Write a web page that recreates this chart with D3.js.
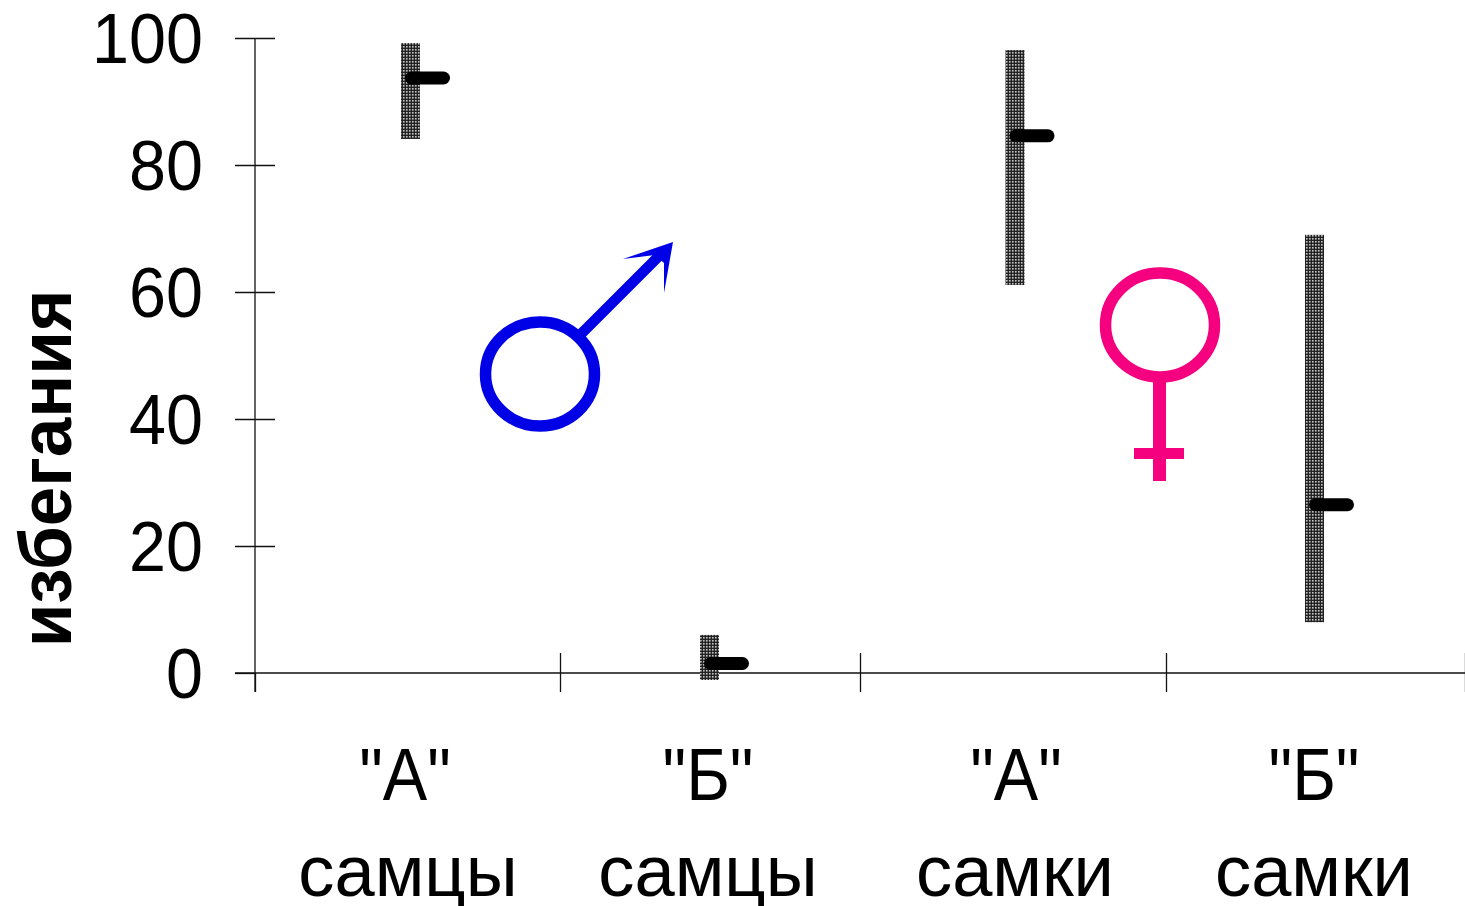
<!DOCTYPE html>
<html><head><meta charset="utf-8">
<script src="https://cdn.jsdelivr.net/npm/d3@7/dist/d3.min.js"></script>
<style>html,body{margin:0;padding:0;background:#fff;overflow:hidden}svg{display:block}
text{font-family:"Liberation Sans",Arial,sans-serif;fill:#000}</style></head>
<body><svg id="c" width="1465" height="906"></svg>
<script>
const groups=['"А"','"Б"','"А"','"Б"'];
const sexes=["самцы","самцы","самки","самки"];
const highs=[99.2,6,98.1,69];
const lows=[84.1,-1.1,61.1,8];
const closes=[93.7,1.5,84.6,26.5];
const yTicks=[0,20,40,60,80,100];
const yTitle="избегания";
const svg=d3.select("#c");
const y=d3.scaleLinear().domain([0,100]).range([673,38]);
const edge=d3.scaleLinear().domain([0,1,2,3,4]).range([255,560,860,1166,1465]);
const cx=d3.scaleOrdinal().domain([0,1,2,3]).range([410.5,709.5,1015,1314.5]);
const defs=svg.append("defs");
const pat=defs.append("pattern").attr("id","dots").attr("patternUnits","userSpaceOnUse").attr("width",3).attr("height",3);
pat.append("rect").attr("width",3).attr("height",3).attr("fill","#222");
pat.append("rect").attr("x",1).attr("y",1).attr("width",1.6).attr("height",1.6).attr("fill","#c4c4c4");
// axes
const yAxis=d3.axisLeft(y).tickValues(yTicks).tickSize(20).tickPadding(32).tickSizeOuter(0);
const gy=svg.append("g").attr("transform","translate(255,0)").call(yAxis);
const tickScale=0.95;
gy.selectAll(".tick text").attr("font-size",70).attr("dy",null).attr("y",24)
  .attr("x",-52/tickScale).attr("transform",`scale(${tickScale},1)`);
gy.selectAll("line").attr("stroke","#111").attr("stroke-width",1.3);
gy.select(".domain").attr("stroke","#111").attr("stroke-width",1.3).attr("d",`M0,${y(100)}V692`);
gy.selectAll(".tick line").attr("x2",-20).attr("x1",20);
gy.selectAll(".tick").filter(d=>d===0).select("line").attr("x1",0);
const xAxis=d3.axisBottom(edge).tickValues([0,1,2,3,4]).tickSize(19).tickFormat("").tickSizeOuter(0);
const gx=svg.append("g").attr("transform","translate(0,673)").call(xAxis);
gx.select(".domain").attr("stroke","#111").attr("stroke-width",1.3).attr("d","M235,0H1465");
gx.selectAll(".tick line").attr("y1",-20).attr("y2",19).attr("stroke","#111").attr("stroke-width",1.3);
gx.selectAll(".tick").filter(d=>d===0).select("line").attr("y1",0);
// bars
const idx=d3.range(groups.length);
svg.append("g").selectAll("rect").data(idx).join("rect")
 .attr("x",i=>cx(i)-9.5).attr("width",19)
 .attr("y",i=>y(highs[i])).attr("height",i=>y(lows[i])-y(highs[i]))
 .attr("fill","url(#dots)");
svg.append("g").selectAll("line").data(idx).join("line")
 .attr("x1",i=>cx(i)+1).attr("x2",i=>cx(i)+33)
 .attr("y1",i=>y(closes[i])).attr("y2",i=>y(closes[i]))
 .attr("stroke","#000").attr("stroke-width",13).attr("stroke-linecap","round");
// labels
const gl=svg.append("g").attr("text-anchor","middle");
const lab1=[405,708,1016,1314],lab2=[408,708,1015,1314];
gl.selectAll(".g").data(idx).join("text").attr("class","g")
 .attr("transform",i=>`translate(${lab1[i]},800) scale(.9,1)`).attr("font-size",74).text(i=>groups[i]);
gl.selectAll(".s").data(idx).join("text").attr("class","s")
 .attr("transform",i=>`translate(${lab2[i]},895.5) scale(.99,1)`).attr("font-size",73).text(i=>sexes[i]);
svg.append("text").attr("transform","translate(71,468.5) rotate(-90) scale(.96,1)").attr("text-anchor","middle").attr("font-size",74).attr("font-weight","bold").text(yTitle);
// male symbol
const blue="#0000e6";
svg.append("ellipse").attr("cx",540).attr("cy",374).attr("rx",54.5).attr("ry",52).attr("fill","none").attr("stroke",blue).attr("stroke-width",11.5);
svg.append("line").attr("x1",581).attr("y1",334).attr("x2",660).attr("y2",255).attr("stroke",blue).attr("stroke-width",10.5);
svg.append("path").attr("d","M673,242L623,259L655,255L664,263L664,293Z").attr("fill",blue);
// female symbol
const pink="#f5007f";
svg.append("ellipse").attr("cx",1160).attr("cy",325).attr("rx",54.5).attr("ry",52).attr("fill","none").attr("stroke",pink).attr("stroke-width",11.5);
svg.append("rect").attr("x",1153).attr("y",378).attr("width",13).attr("height",103).attr("fill",pink);
svg.append("rect").attr("x",1134).attr("y",448).attr("width",50).attr("height",11).attr("fill",pink);
</script></body></html>
